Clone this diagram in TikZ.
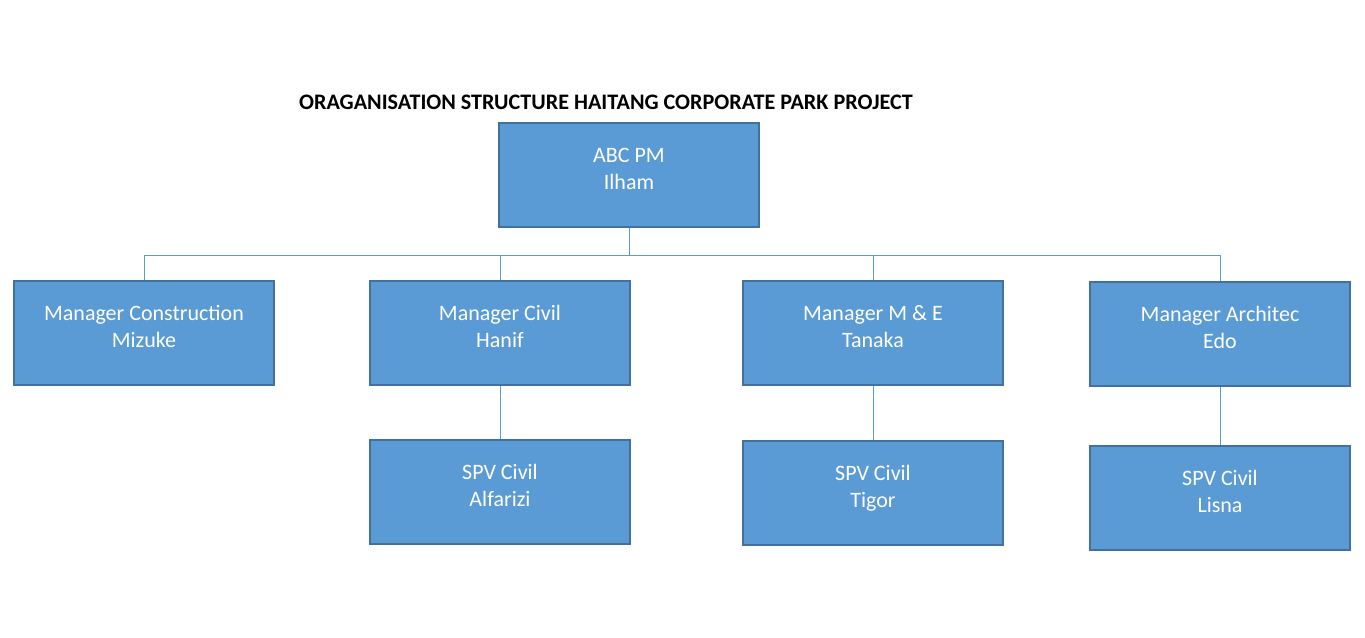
\documentclass[tikz,border=0pt]{standalone}
\usepackage{fontspec}
\setmainfont{Carlito}
\definecolor{boxfill}{HTML}{5B9BD5}
\definecolor{boxline}{HTML}{41719C}
\definecolor{conn}{HTML}{5B9BD5}
\begin{document}
\begin{tikzpicture}[x=0.75pt,y=-0.75pt,
  orgbox/.style={draw=boxline,line width=1.4pt,fill=boxfill,text=white,
    minimum width=195pt,minimum height=78pt,inner sep=0pt,align=center,
    text depth=9.5pt,
    font=\fontsize{16.5}{20.3}\selectfont},
  link/.style={draw=conn,line width=0.7pt}]
\useasboundingbox (0,0) rectangle (1365,638);
\node[font=\bfseries\fontsize{16.6}{18}\selectfont,anchor=base] (title) at (606,110) {ORAGANISATION STRUCTURE HAITANG CORPORATE PARK PROJECT};
\node[orgbox] (pm) at (629,175) {ABC PM\\Ilham};
\node[orgbox] (mc) at (144,333) {Manager Construction\\Mizuke};
\node[orgbox] (mcv) at (500,333) {Manager Civil\\Hanif};
\node[orgbox] (mme) at (873,333) {Manager M \& E\\Tanaka};
\node[orgbox] (ma) at (1220,334) {Manager Architec\\Edo};
\node[orgbox] (s1) at (500,492) {SPV Civil\\Alfarizi};
\node[orgbox] (s2) at (873,493) {SPV Civil\\Tigor};
\node[orgbox] (s3) at (1220,498) {SPV Civil\\Lisna};
\coordinate (bus) at (629,255);
\draw[link] (pm.south) -- (bus);
\draw[link] (mc.north) |- (bus);
\draw[link] (mcv.north) |- (bus);
\draw[link] (mme.north) |- (bus);
\draw[link] (ma.north) |- (bus);
\draw[link] (mcv.south) -- (s1.north);
\draw[link] (mme.south) -- (s2.north);
\draw[link] (ma.south) -- (s3.north);
\end{tikzpicture}
\end{document}
